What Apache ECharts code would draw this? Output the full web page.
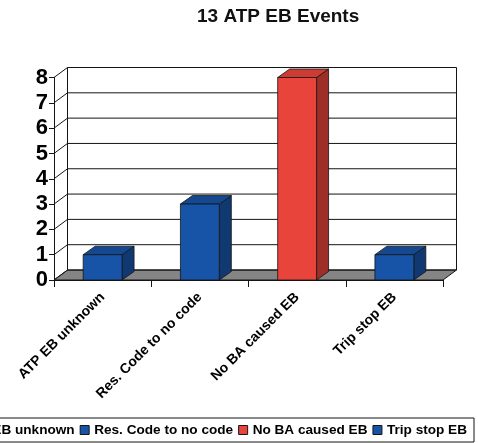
<!DOCTYPE html>
<html>
<head>
<meta charset="utf-8">
<script src="https://cdn.jsdelivr.net/npm/echarts@6/dist/echarts.min.js"></script>
<style>
  html, body { margin: 0; padding: 0; background: #fff; }
  #chart { width: 478px; height: 443px; }
</style>
</head>
<body>
<div id="chart"></div>
<script>
// Chart content
const titleText = '13 ATP EB Events';
const categories = ['ATP EB unknown', 'Res. Code to no code', 'No BA caused EB', 'Trip stop EB'];
const eventCounts = [1, 3, 8, 1];
const barColors = ['#1753a6', '#1753a6', '#e8443b', '#1753a6'];
const yTicks = [0, 1, 2, 3, 4, 5, 6, 7, 8];

const FONT = '"Liberation Sans", Arial, Helvetica, sans-serif';
// pseudo-3D offsets (pixels): back wall / floor depth and bar depth
const WALL_DX = 13.5, WALL_DY = -10;
const BAR_DX = 12, BAR_DY = -8.5;
const EDGE = '#151515';

function shade(hex, f) {
  const n = parseInt(hex.slice(1), 16);
  const r = Math.round(((n >> 16) & 255) * f);
  const g = Math.round(((n >> 8) & 255) * f);
  const b = Math.round((n & 255) * f);
  return 'rgb(' + r + ',' + g + ',' + b + ')';
}

// Back wall gridlines, left side-wall diagonals and the grey floor
function renderWalls(params, api) {
  const cs = params.coordSys;
  const t = api.value(1);
  const y = api.coord([0, t])[1];
  const xl = cs.x, xr = cs.x + cs.width;
  const line = { stroke: EDGE, lineWidth: 1 };
  const children = [];
  if (params.dataIndex === 0) {
    const yb = cs.y + cs.height, yt = cs.y;
    children.push({
      type: 'polygon',
      shape: { points: [[xl, yb], [xr, yb], [xr + WALL_DX, yb + WALL_DY], [xl + WALL_DX, yb + WALL_DY]] },
      style: { fill: '#858585', stroke: EDGE, lineWidth: 1 }
    });
    children.push({
      type: 'line',
      shape: { x1: xl + WALL_DX, y1: yt + WALL_DY, x2: xl + WALL_DX, y2: yb + WALL_DY },
      style: line
    });
    children.push({
      type: 'line',
      shape: { x1: xr + WALL_DX, y1: yt + WALL_DY, x2: xr + WALL_DX, y2: yb + WALL_DY },
      style: line
    });
  }
  children.push({
    type: 'line',
    shape: { x1: xl + WALL_DX, y1: y + WALL_DY, x2: xr + WALL_DX, y2: y + WALL_DY },
    style: line
  });
  children.push({
    type: 'line',
    shape: { x1: xl, y1: y, x2: xl + WALL_DX, y2: y + WALL_DY },
    style: line
  });
  return { type: 'group', children: children };
}

// Extruded column: side face, top face, front face
function renderBar(params, api) {
  const i = api.value(0), v = api.value(1);
  const top = api.coord([i, v]);
  const base = api.coord([i, 0]);
  const bw = api.size([1, 0])[0] * 0.4;
  const x0 = top[0] - bw / 2, x1 = top[0] + bw / 2;
  const yT = top[1], yB = base[1];
  const color = api.visual('color');
  const st = { stroke: EDGE, lineWidth: 0.8 };
  return {
    type: 'group',
    children: [
      {
        type: 'polygon',
        shape: { points: [[x1, yB], [x1 + BAR_DX, yB + BAR_DY], [x1 + BAR_DX, yT + BAR_DY], [x1, yT]] },
        style: Object.assign({ fill: shade(color, 0.68) }, st)
      },
      {
        type: 'polygon',
        shape: { points: [[x0, yT], [x1, yT], [x1 + BAR_DX, yT + BAR_DY], [x0 + BAR_DX, yT + BAR_DY]] },
        style: Object.assign({ fill: shade(color, 0.88) }, st)
      },
      {
        type: 'rect',
        shape: { x: x0, y: yT, width: bw, height: yB - yT },
        style: Object.assign({ fill: color }, st)
      }
    ]
  };
}

const barSeries = categories.map(function (name, i) {
  return {
    type: 'custom',
    name: name,
    renderItem: renderBar,
    itemStyle: { color: barColors[i] },
    data: [[i, eventCounts[i]]],
    z: 3,
    silent: true
  };
});

const chart = echarts.init(document.getElementById('chart'), null, { renderer: 'canvas' });
chart.setOption({
  animation: false,
  backgroundColor: '#fff',
  textStyle: { fontFamily: FONT },
  title: {
    text: titleText,
    left: 197,
    top: 7,
    padding: 0,
    textStyle: { fontFamily: FONT, fontSize: 19, fontWeight: 'bold', color: '#111' }
  },
  grid: { left: 54, right: 35, top: 77.5, bottom: 163, containLabel: false },
  xAxis: {
    type: 'category',
    data: categories,
    axisLine: { show: true, lineStyle: { color: EDGE, width: 1 } },
    axisTick: { show: true, length: 7, lineStyle: { color: EDGE } },
    axisLabel: {
      rotate: 45,
      interval: 0,
      margin: 15,
      fontFamily: FONT,
      fontSize: 14,
      fontWeight: 'bold',
      color: '#000'
    },
    splitLine: { show: false }
  },
  yAxis: {
    type: 'value',
    min: 0,
    max: yTicks[yTicks.length - 1],
    interval: 1,
    axisLine: { show: true, lineStyle: { color: EDGE, width: 1 } },
    axisTick: { show: true, length: 5, lineStyle: { color: EDGE } },
    axisLabel: { margin: 6, fontFamily: FONT, fontSize: 22, fontWeight: 'bold', color: '#000' },
    splitLine: { show: false }
  },
  legend: {
    data: categories,
    orient: 'horizontal',
    right: 4,
    top: 418,
    width: 700,
    icon: 'rect',
    itemWidth: 9,
    itemHeight: 9,
    itemGap: 5,
    padding: [5, 7, 5, 6],
    borderColor: EDGE,
    borderWidth: 1,
    backgroundColor: '#fff',
    itemStyle: { borderColor: EDGE, borderWidth: 1 },
    textStyle: { fontFamily: FONT, fontSize: 13.6, fontWeight: 'bold', color: '#000' }
  },
  series: [
    {
      type: 'custom',
      name: 'walls',
      renderItem: renderWalls,
      data: yTicks.map(function (t) { return [0, t]; }),
      z: 1,
      silent: true
    }
  ].concat(barSeries)
});
</script>
</body>
</html>
